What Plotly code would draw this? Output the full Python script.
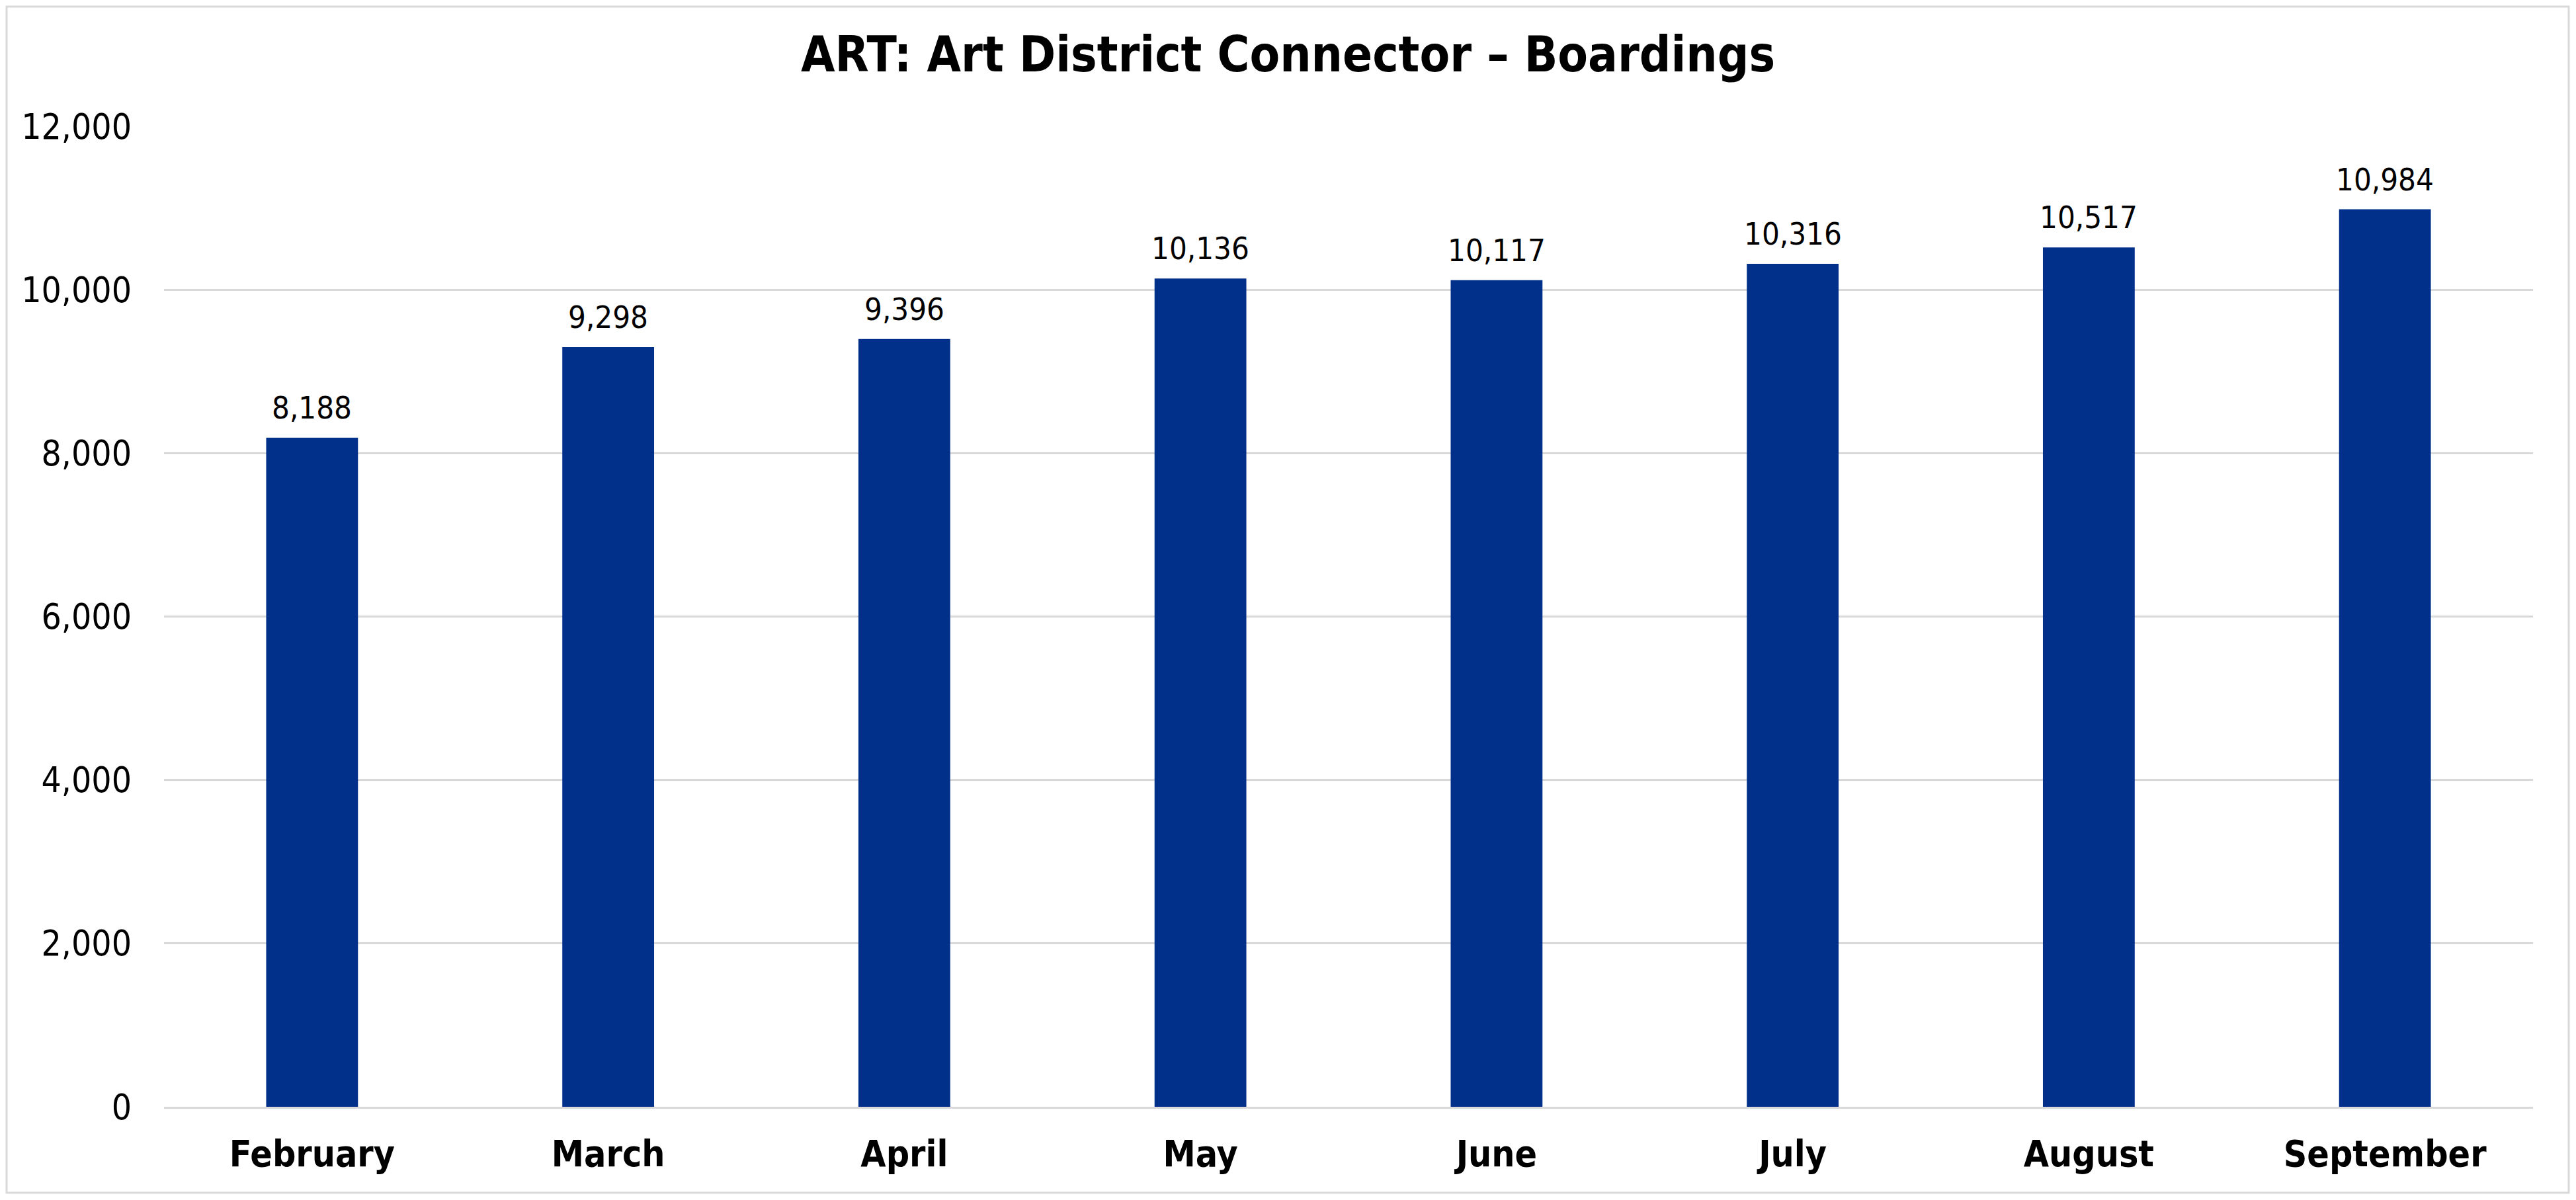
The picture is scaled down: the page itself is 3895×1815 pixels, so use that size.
import plotly.graph_objects as go

# data
months = ["February", "March", "April", "May", "June", "July", "August", "September"]
boardings = [8188, 9298, 9396, 10136, 10117, 10316, 10517, 10984]
y_ticks = [0, 2000, 4000, 6000, 8000, 10000, 12000]

# page body adds 8px around the figure, so keep the figure a bit smaller
W, H = 3879, 1799
ml, mr, mt, mb = 240, 57, 183, 133
FONT = "DejaVu Sans Condensed, DejaVu Sans, sans-serif"

fig = go.Figure()
fig.add_trace(go.Bar(x=months,
                     y=boardings,
                     marker_color="#00308A",
                     marker_line_width=0,
                     hoverinfo="x+y"))

# value labels above each bar
for m, v in zip(months, boardings):
    fig.add_annotation(x=m, y=v, text=f"{v:,}",
                       showarrow=False, yanchor="bottom", yshift=16,
                       font=dict(family=FONT, size=47, color="#000000"))

# chart border like the excel chart area
pw = W - ml - mr
ph = H - mt - mb
fig.add_shape(type="rect", xref="paper", yref="paper",
              x0=(2 - ml) / pw, x1=(W - 3 - ml) / pw,
              y0=-(mb - 3) / ph, y1=(ph + mt - 2) / ph,
              line=dict(color="#d9d9d9", width=3))

fig.update_layout(width=W, height=H,
                  margin=dict(l=ml, r=mr, t=mt, b=mb),
                  paper_bgcolor="white",
                  plot_bgcolor="white",
                  bargap=0.69,
                  showlegend=False,
                  title=dict(text="<b>ART: Art District Connector – Boardings</b>",
                             x=0.5, xref="container", xanchor="center",
                             y=1 - 74 / H, yanchor="middle",
                             font=dict(family=FONT, size=74, color="#000000")))
fig.update_xaxes(tickfont=dict(family=FONT, size=55, color="#000000"),
                 tickprefix="<b>", ticksuffix="</b>",
                 showline=True, linecolor="#d9d9d9", linewidth=3,
                 ticks="", ticklen=0, ticklabelstandoff=21)
fig.update_yaxes(range=[0, 12000],
                 tickvals=y_ticks,
                 tickformat=",",
                 tickfont=dict(family=FONT, size=53, color="#000000"),
                 showgrid=True, gridcolor="#d9d9d9", gridwidth=3,
                 zeroline=False, ticks="", ticklabelstandoff=48)

fig.write_html("out.html")
